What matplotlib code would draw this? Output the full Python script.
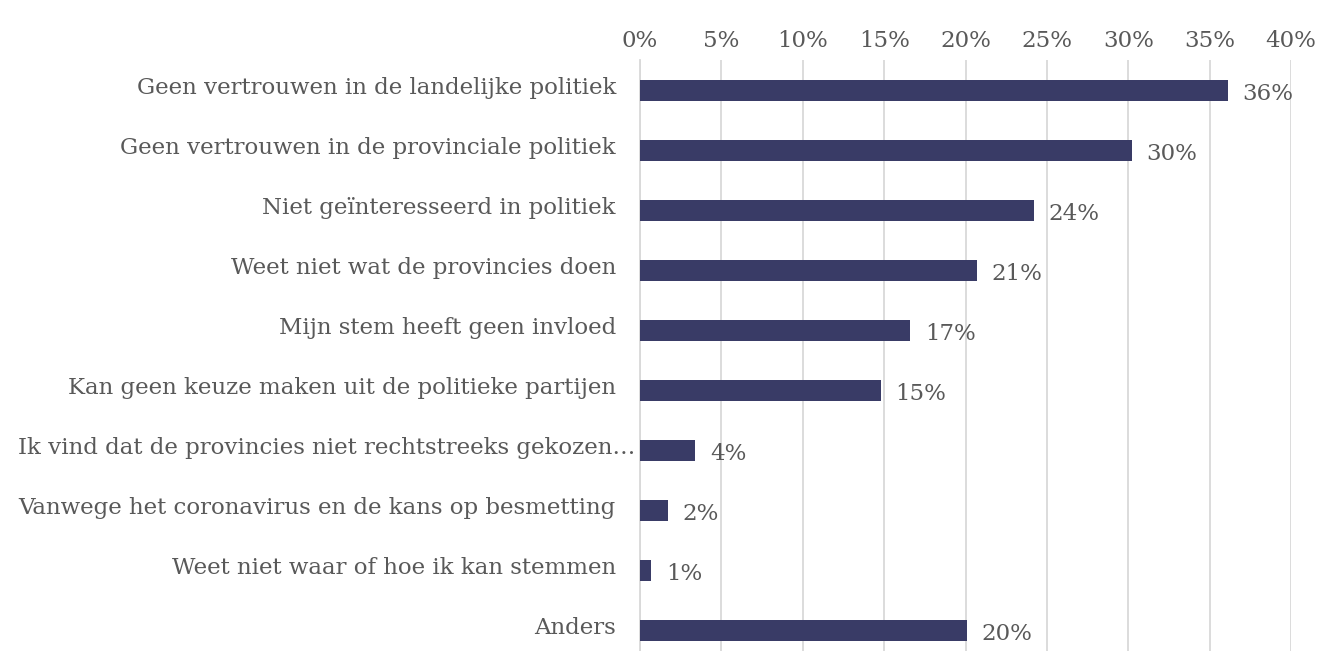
import matplotlib
matplotlib.use("Agg")
import matplotlib.pyplot as plt
from matplotlib.ticker import FuncFormatter
from matplotlib.transforms import blended_transform_factory, offset_copy

categories = [
    "Geen vertrouwen in de landelijke politiek",
    "Geen vertrouwen in de provinciale politiek",
    "Niet geïnteresseerd in politiek",
    "Weet niet wat de provincies doen",
    "Mijn stem heeft geen invloed",
    "Kan geen keuze maken uit de politieke partijen",
    "Ik vind dat de provincies niet rechtstreeks gekozen…",
    "Vanwege het coronavirus en de kans op besmetting",
    "Weet niet waar of hoe ik kan stemmen",
    "Anders",
]
values = [36.1, 30.2, 24.2, 20.7, 16.6, 14.8, 3.4, 1.7, 0.7, 20.1]
labels = ["36%", "30%", "24%", "21%", "17%", "15%", "4%", "2%", "1%", "20%"]
xticks = [0, 5, 10, 15, 20, 25, 30, 35, 40]

W, H = 1321, 651
fig = plt.figure(figsize=(W / 100, H / 100), dpi=100)
ax = fig.add_axes([640 / W, 0, (1291 - 640) / W, 1 - 60 / H])

txt = "#595959"
font = "DejaVu Serif"
fs = 16.5
y = list(range(len(categories)))
ax.barh(y, values, height=0.35, color="#393B66", zorder=3)
for yi, v, l in zip(y, values, labels):
    ax.text(v + 0.9, yi + 0.06, l, va="center", ha="left", fontsize=fs, color=txt, family=font)

ax.set_xlim(0, 40)
ax.set_ylim(9.35, -0.5)
ax.set_xticks(xticks)
ax.xaxis.set_major_formatter(FuncFormatter(lambda v, p: f"{v:.0f}%"))
ax.xaxis.tick_top()
ax.set_yticks(y)
ax.set_yticklabels([])
ax.tick_params(axis="both", length=0, labelsize=fs, colors=txt)
ax.tick_params(axis="x", pad=6)
for lab in ax.get_xticklabels():
    lab.set_family(font)

# category labels (Excel-style: truncated label sits closer to the axis)
bt = blended_transform_factory(ax.transAxes, ax.transData)
for yi, c in zip(y, categories):
    dx = -5 if c.endswith("…") else -24
    tr = offset_copy(bt, fig=fig, x=dx, y=0, units="dots")
    ax.text(0, yi - 0.03, c, transform=tr, ha="right", va="center",
            fontsize=fs, color=txt, family=font)

ax.grid(axis="x", color="#D9D9D9", linewidth=1.3, zorder=0)
for s in ax.spines.values():
    s.set_visible(False)
ax.spines["left"].set_visible(True)
ax.spines["left"].set_color("#D9D9D9")
ax.spines["left"].set_linewidth(1.3)

fig.savefig("out.png", dpi=100)
